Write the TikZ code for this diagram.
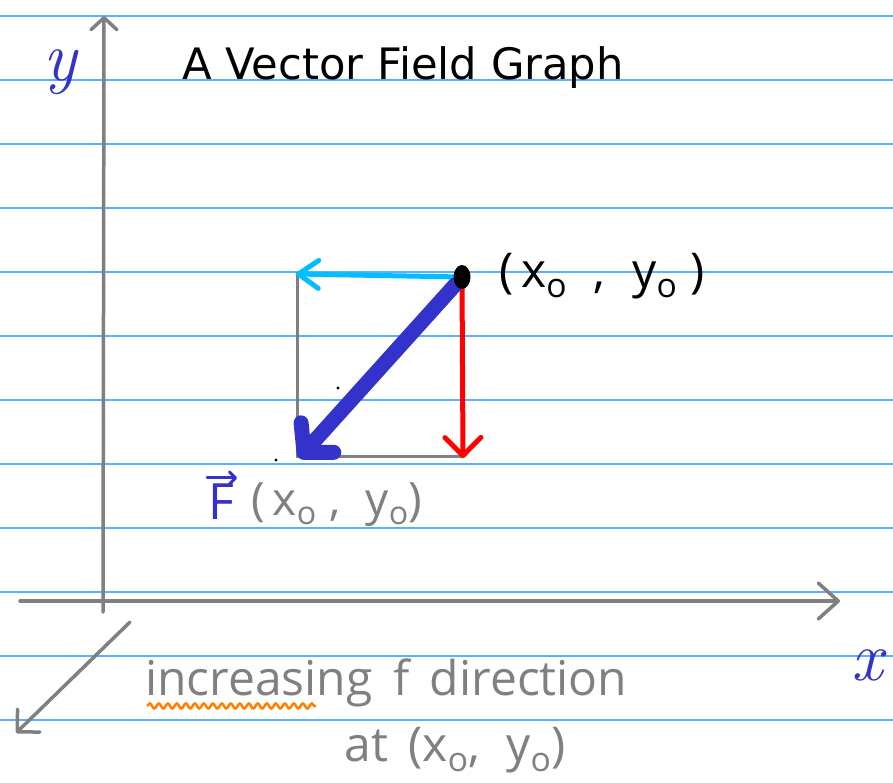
\documentclass[tikz,border=0pt]{standalone}
\usepackage{fontspec}
\newfontfamily\titlefont{DejaVu Sans}
\newfontfamily\handfont{Open Sans}
\usetikzlibrary{arrows.meta,decorations.pathmorphing,shapes.geometric}
\definecolor{ruleblue}{RGB}{90,175,255}
\definecolor{axisgray}{RGB}{128,128,128}
\definecolor{fblue}{RGB}{51,51,204}
\definecolor{cyanv}{RGB}{0,191,255}
\definecolor{orangeu}{RGB}{255,128,0}
\tikzset{
  rule/.style={ruleblue, line width=1.3pt},
  axis/.style={axisgray, line width=3.5pt, line cap=round},
  boxline/.style={axisgray, line width=3pt},
  handtext/.style={font=\handfont\fontsize{48}{52}\selectfont, text=axisgray, inner sep=0pt},
  axislabel/.style={text=fblue, inner sep=0pt, font=\rmfamily\itshape\fontsize{70}{70}\selectfont},
}
\begin{document}
\begin{tikzpicture}[x=1pt,y=-1pt]
\fill[white] (0,0) rectangle (893,782);
\useasboundingbox (0,0) rectangle (893,782);
\foreach \yy in {16,80,...,720} \draw[rule] (0,\yy) -- (893,\yy);

% axes
\coordinate (ybot) at (103,612);
\coordinate (ytop) at (104,16);
\coordinate (xleft) at (20,601);
\coordinate (xright) at (840,601);
\coordinate (dstart) at (130,622);
\coordinate (dend) at (16,733);
\draw[axis, -{Straight Barb[round,length=12pt,width=26pt]}] (ybot) -- (ytop);
\draw[axis, -{Straight Barb[round,length=20pt,width=36pt]}] (xleft) -- (xright);
\draw[axis, -{Straight Barb[round,length=16pt,width=32pt]}] (dstart) -- (dend);

% labels of axes
\node[axislabel] (ylab) at (60,72) {y};
\node[axislabel] (xlab) at (867,665) {x};

% title
\node[font=\titlefont\fontsize{43.3}{46}\selectfont, anchor=base west, inner sep=0pt] (title) at (182,79) {A Vector Field Graph};

% points
\coordinate (P) at (462,277);
\coordinate (Q) at (296,274);
\coordinate (R) at (463,458);
\coordinate (S) at (299,458);

% gray box
\draw[boxline] (297,272) -- (297,456) -- (463,456);

% component vectors
\draw[cyanv, line width=5pt, line cap=round, -{Straight Barb[round,length=20pt,width=28pt]}] (P) -- (Q);
\draw[red, line width=5pt, line cap=round, -{Straight Barb[round,length=18pt,width=36pt]}] (P) -- (R);
% vector field arrow
\draw[fblue, line width=15pt, line cap=round, -{Straight Barb[round,length=20pt,width=44pt]}] (455,285) -- (S);

% point
\node[fill=black, ellipse, minimum width=17pt, minimum height=24pt, inner sep=0pt] (dot) at (P) {};

% small dots
\fill (338,388) circle (1.6);
\fill (276,460) circle (1.6);

% labels
\node[font=\handfont\fontsize{48}{50}\selectfont, inner sep=0pt] (plab) at (602,276) {(\,x\textsubscript{o}\;\;,\;\;y\textsubscript{o}\;)};
\node[text=fblue, inner sep=0pt, font=\handfont\fontsize{50}{50}\selectfont] (Flab) at (221,502) {F};
\draw[fblue, line width=3pt, line cap=round, -{Straight Barb[round,length=6pt,width=12pt]}] ([xshift=-14pt,yshift=6pt]Flab.north) -- ([xshift=16pt,yshift=6pt]Flab.north);
\node[handtext, font=\handfont\fontsize{46}{48}\selectfont] (Fargs) at (337,505) {(\,x\textsubscript{o}\;, \;y\textsubscript{o})};

\node[handtext, anchor=base west] (inc) at (145,695) {increasing \,f \,direction};
\node[handtext] (at) at (455,750) {at \,(x\textsubscript{o}, \;y\textsubscript{o})};

\draw[orangeu, line width=2.5pt, decorate, decoration={snake, amplitude=2.5pt, segment length=9pt}] (147,706) -- (316,706);
\end{tikzpicture}
\end{document}
